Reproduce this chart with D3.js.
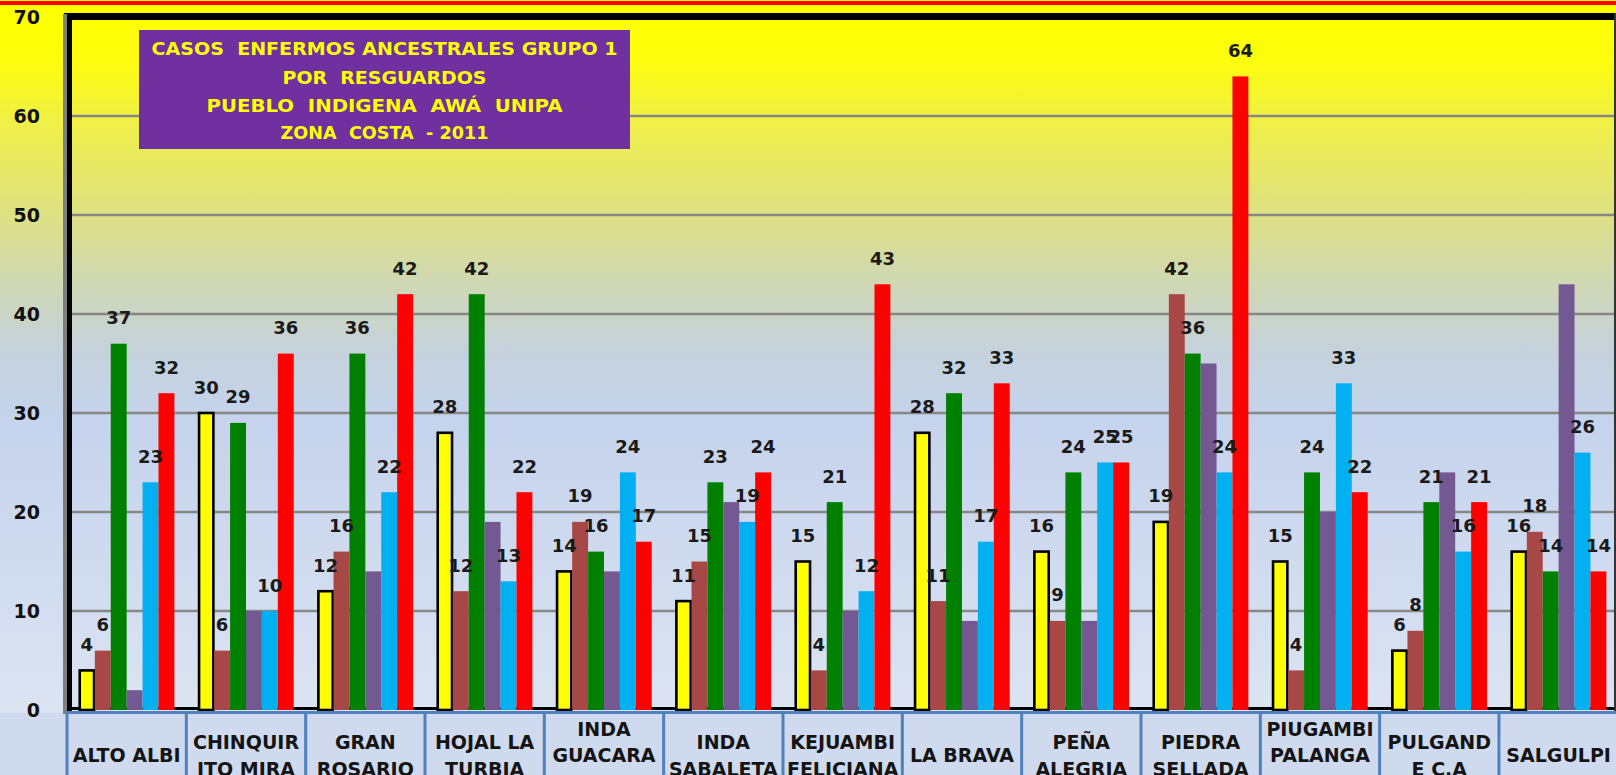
<!DOCTYPE html>
<html><head><meta charset="utf-8">
<script src="https://cdn.jsdelivr.net/npm/d3@7"></script>
<style>html,body{margin:0;padding:0;overflow:hidden;background:#fff}</style>
</head><body>
<script>
// ---- DATA ----
const categoryLines = [
  ["ALTO ALBI"], ["CHINQUIR","ITO MIRA"], ["GRAN","ROSARIO"], ["HOJAL LA","TURBIA"],
  ["INDA","GUACARA"], ["INDA","SABALETA"], ["KEJUAMBI","FELICIANA"], ["LA BRAVA"],
  ["PEÑA","ALEGRIA"], ["PIEDRA","SELLADA"], ["PIUGAMBI","PALANGA"], ["PULGAND","E C.A"], ["SALGULPI"]
];
const yellowVals = [4,30,12,28,14,11,15,28,16,19,15,6,16];
const brownVals  = [6,6,16,12,19,15,4,11,9,42,4,8,18];
const greenVals  = [37,29,36,42,16,23,21,32,24,36,24,21,14];
const purpleVals = [2,10,14,19,14,21,10,9,9,35,20,24,43];
const blueVals   = [23,10,22,13,24,19,12,17,25,24,33,16,26];
const redVals    = [32,36,42,22,17,24,43,33,25,64,22,21,14];
const yTicks = [0,10,20,30,40,50,60,70];
const titleLines = ["CASOS  ENFERMOS ANCESTRALES GRUPO 1","POR  RESGUARDOS","PUEBLO  INDIGENA  AWÁ  UNIPA","ZONA  COSTA  - 2011"];

// ---- STYLE / LAYOUT ----
const series = [
  {vals: yellowVals, color: "#FFFF00", stroke: "#000", label: true},
  {vals: brownVals,  color: "#A84846", label: true},
  {vals: greenVals,  color: "#008000", label: true},
  {vals: purpleVals, color: "#735891", label: false},
  {vals: blueVals,   color: "#00B0F0", label: true},
  {vals: redVals,    color: "#FF0000", label: true}
];
const W = 1616, H = 775;
const FONT = "'DejaVu Sans', Verdana, sans-serif";
const raisedLabels = new Set([4, 10]); // two-line labels sitting higher

const svg = d3.select("body").append("svg").attr("width", W).attr("height", H);
const defs = svg.append("defs");
const grad = defs.append("linearGradient").attr("id","bg")
  .attr("gradientUnits","userSpaceOnUse").attr("x1",0).attr("y1",0).attr("x2",0).attr("y2",712);
[[0,"#FFFF00"],[60,"#FDFD0C"],[120,"#F0F046"],[200,"#E1E37A"],[280,"#D0D8B2"],
 [350,"#C5D2DC"],[420,"#C5D3EC"],[550,"#CFDAEF"],[712,"#DCE4F2"]].forEach(([o,c]) => {
  grad.append("stop").attr("offset", o/712).attr("stop-color", c);
});
svg.append("rect").attr("width", W).attr("height", H).attr("fill", "url(#bg)");
svg.append("rect").attr("x",0).attr("y",713).attr("width",W).attr("height",H-713).attr("fill","#CFDAEE");

// red top line
svg.append("rect").attr("x",0).attr("y",1).attr("width",W).attr("height",4).attr("fill","#FF0000");

const x = d3.scaleBand().domain(d3.range(categoryLines.length)).range([67, 1618.3]).padding(0);
const xs = d3.scaleBand().domain(d3.range(series.length)).range([0, x.bandwidth()])
  .paddingInner(0).paddingOuter(0.75);
const y = d3.scaleLinear().domain([0,70]).range([710,17]);

// gridlines
svg.append("g").selectAll("line").data(yTicks.filter(t => t > 0 && t < 70)).join("line")
  .attr("x1", 70).attr("x2", 1615).attr("y1", d => y(d)).attr("y2", d => y(d))
  .attr("stroke", "#878787").attr("stroke-width", 2.5);

// black baseline
svg.append("line").attr("x1",70).attr("x2",1615).attr("y1",708.5).attr("y2",708.5)
  .attr("stroke","#000").attr("stroke-width",3);

// bars
series.forEach((s, si) => {
  const g = svg.append("g");
  g.selectAll("rect").data(s.vals).join("rect")
    .attr("x", (d,i) => x(i) + xs(si) + (s.stroke ? 0.8 : 0))
    .attr("width", xs.bandwidth() - (s.stroke ? 1.6 : 0))
    .attr("y", d => y(d))
    .attr("height", d => y(0) - y(d))
    .attr("fill", s.color)
    .attr("stroke", s.stroke || "none")
    .attr("stroke-width", s.stroke ? 2.6 : 0);
});

// data labels
series.forEach((s, si) => {
  if (!s.label) return;
  svg.append("g").selectAll("text").data(s.vals).join("text")
    .attr("x", (d,i) => x(i) + xs(si) + xs.bandwidth()/2)
    .attr("y", d => y(d) - 19.5)
    .attr("text-anchor","middle")
    .attr("font-family", FONT).attr("font-weight","bold").attr("font-size", 18)
    .attr("fill","#1a1a1a")
    .text(d => d);
});

// frame: top border, left axis, right border
svg.append("rect").attr("x",64).attr("y",13).attr("width",W-64).attr("height",7).attr("fill","#000");
svg.append("rect").attr("x",63).attr("y",14).attr("width",4).attr("height",700).attr("fill","#7f7f7f");
svg.append("rect").attr("x",67).attr("y",14).attr("width",5).attr("height",700).attr("fill","#000");
svg.append("line").attr("x1",1615).attr("x2",1615).attr("y1",13).attr("y2",712)
  .attr("stroke","#333").attr("stroke-width",2);

// category axis (blue)
svg.append("line").attr("x1",67).attr("x2",W).attr("y1",712.5).attr("y2",712.5)
  .attr("stroke","#4F81BD").attr("stroke-width",3);
svg.append("g").selectAll("line").data(d3.range(categoryLines.length)).join("line")
  .attr("x1", i => x(i)).attr("x2", i => x(i)).attr("y1", 711).attr("y2", H)
  .attr("stroke","#4F81BD").attr("stroke-width",3);

// category labels
const cl = svg.append("g");
categoryLines.forEach((lines, i) => {
  const cx = x(i) + x.bandwidth()/2;
  let first = lines.length === 1 ? 755 : (raisedLabels.has(i) ? 728.5 : 742);
  const t = cl.append("text").attr("text-anchor","middle")
    .attr("font-family", FONT).attr("font-weight","bold").attr("font-size", 19)
    .attr("fill","#141414");
  lines.forEach((ln, k) => {
    t.append("tspan").attr("x", cx).attr("y", first + k*26.5 + 7).text(ln);
  });
});

// y axis labels via d3 axis
const yAxis = d3.axisLeft(y).tickValues(yTicks).tickSize(0).tickPadding(0).tickFormat(d3.format("d"));
const ya = svg.append("g").attr("transform","translate(40,0)").call(yAxis);
ya.select(".domain").remove();
ya.selectAll("text").attr("font-family", FONT).attr("font-weight","bold").attr("font-size", 19)
  .attr("fill","#111").attr("dy","0.36em");

// title box
const tb = svg.append("g");
tb.append("rect").attr("x",139).attr("y",30).attr("width",491).attr("height",119).attr("fill","#7030A0");
const titleWidths = [466, 204, 356, 208];
const titleY = [55, 83.5, 111.5, 138.5];
titleLines.forEach((ln, k) => {
  tb.append("text").attr("x", 384.5).attr("y", titleY[k]).attr("text-anchor","middle")
    .attr("font-family", FONT).attr("font-weight","bold").attr("font-size", 18)
    .attr("fill","#FFFF00").style("white-space","pre")
    .attr("textLength", titleWidths[k]).attr("lengthAdjust","spacingAndGlyphs")
    .text(ln);
});
</script>
</body></html>
